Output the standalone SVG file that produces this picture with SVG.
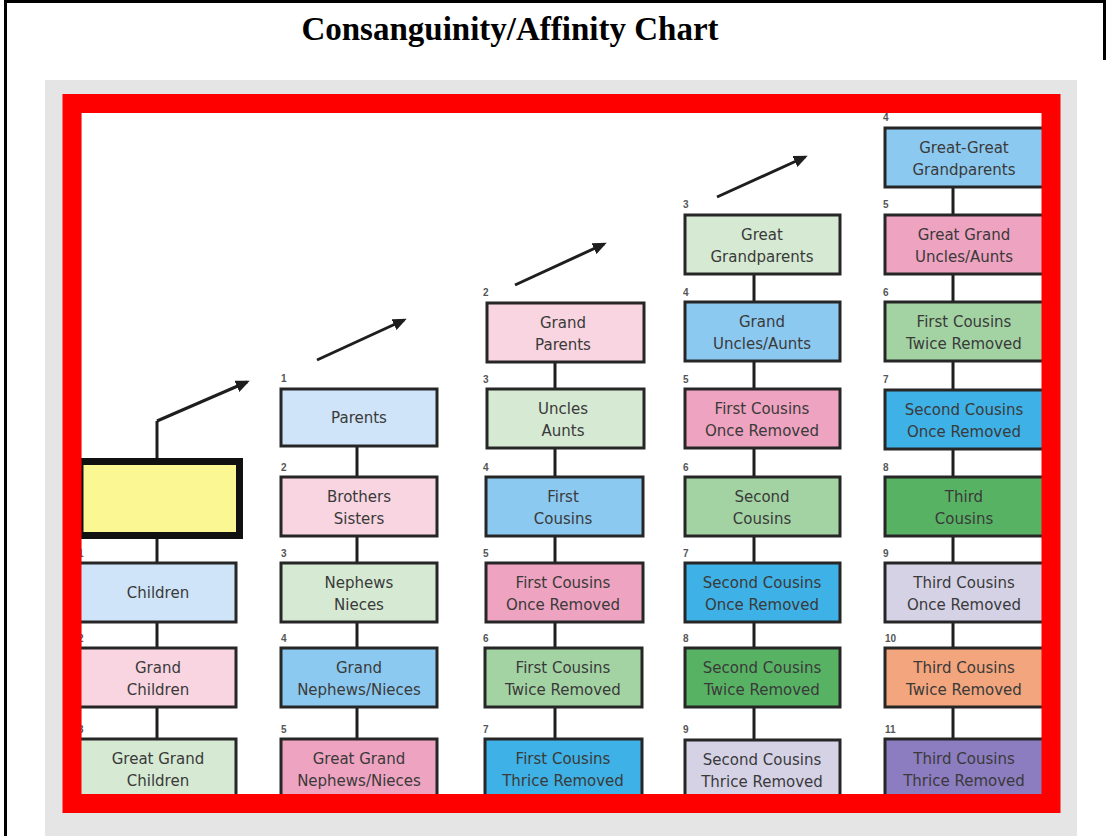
<svg xmlns="http://www.w3.org/2000/svg" width="1108" height="836" viewBox="0 0 1108 836">
<defs>
<style>
.box{stroke:#262626;stroke-width:3}
.t{font-family:"DejaVu Sans","Liberation Sans",sans-serif;font-size:15px;fill:#3a3a3a;text-anchor:middle}
.n{font-family:"Liberation Sans",Arial,sans-serif;font-size:10px;font-weight:bold;fill:#555}
.ln{stroke:#1e1e1e;stroke-width:3;fill:none}
.lb{fill:#cfe4f8}.lp{fill:#f8d5e0}.lg{fill:#d5e9d3}.mb{fill:#8cc9f0}.pk{fill:#eea3c0}
.mg{fill:#a3d3a3}.bb{fill:#3eb1e6}.dg{fill:#58b263}.lv{fill:#d5d2e6}.sm{fill:#f3a57d}.pu{fill:#8c7cc0}
</style>
<marker id="ah" markerUnits="userSpaceOnUse" markerWidth="14" markerHeight="12" refX="11" refY="6" orient="auto">
<path d="M0,0 L14,6 L0,12 z" fill="#1e1e1e"/>
</marker>
</defs>
<rect x="0" y="0" width="1108" height="836" fill="#ffffff"/>
<path d="M5.5,836 V1.5 H1106 M1104.5,1.5 V60" stroke="#000" stroke-width="3" fill="none"/>
<text x="510" y="40" font-family="'Liberation Serif','Times New Roman',serif" font-size="33" font-weight="bold" text-anchor="middle" fill="#000">Consanguinity/Affinity Chart</text>
<rect x="45" y="80" width="1032" height="756" fill="#e5e5e5"/>
<rect x="82" y="113" width="960" height="682" fill="#ffffff"/>

<g id="connectors">
<line class="ln" x1="157" y1="421" x2="157" y2="790"/>
<line class="ln" x1="357" y1="440" x2="357" y2="790"/>
<line class="ln" x1="555" y1="355" x2="555" y2="790"/>
<line class="ln" x1="754" y1="270" x2="754" y2="790"/>
<line class="ln" x1="953" y1="180" x2="953" y2="790"/>
<line class="ln" x1="157" y1="421" x2="247" y2="382" marker-end="url(#ah)"/>
<line class="ln" x1="317" y1="360" x2="404" y2="320" marker-end="url(#ah)"/>
<line class="ln" x1="515" y1="285" x2="604" y2="244" marker-end="url(#ah)"/>
<line class="ln" x1="717" y1="197" x2="805" y2="157" marker-end="url(#ah)"/>
</g>

<g id="self"><rect x="80" y="461.5" width="159.5" height="74" fill="#fbf894" stroke="#111" stroke-width="7"/></g>
<g id="children"><rect class="box lb" x="78" y="563" width="158" height="59"/><text class="n" x="78" y="557">1</text><text class="t" x="158" y="598">Children</text></g>
<g id="grand-children"><rect class="box lp" x="78" y="648" width="158" height="59"/><text class="n" x="78" y="642">2</text><text class="t" x="158" y="673">Grand</text><text class="t" x="158" y="695">Children</text></g>
<g id="great-grand-children"><rect class="box lg" x="78" y="739" width="158" height="59"/><text class="n" x="78" y="733">3</text><text class="t" x="158" y="764">Great Grand</text><text class="t" x="158" y="786">Children</text></g>

<g id="parents"><rect class="box lb" x="281" y="389" width="156" height="57"/><text class="n" x="281" y="382">1</text><text class="t" x="359" y="423">Parents</text></g>
<g id="brothers-sisters"><rect class="box lp" x="281" y="477" width="156" height="59"/><text class="n" x="281" y="471">2</text><text class="t" x="359" y="502">Brothers</text><text class="t" x="359" y="524">Sisters</text></g>
<g id="nephews-nieces"><rect class="box lg" x="281" y="563" width="156" height="59"/><text class="n" x="281" y="557">3</text><text class="t" x="359" y="588">Nephews</text><text class="t" x="359" y="610">Nieces</text></g>
<g id="grand-nephews-nieces"><rect class="box mb" x="281" y="648" width="156" height="59"/><text class="n" x="281" y="642">4</text><text class="t" x="359" y="673">Grand</text><text class="t" x="359" y="695">Nephews/Nieces</text></g>
<g id="great-grand-nephews-nieces"><rect class="box pk" x="281" y="739" width="156" height="59"/><text class="n" x="281" y="733">5</text><text class="t" x="359" y="764">Great Grand</text><text class="t" x="359" y="786">Nephews/Nieces</text></g>

<g id="grand-parents"><rect class="box lp" x="487" y="303" width="157" height="59"/><text class="n" x="483" y="296">2</text><text class="t" x="563" y="328">Grand</text><text class="t" x="563" y="350">Parents</text></g>
<g id="uncles-aunts"><rect class="box lg" x="487" y="389" width="157" height="59"/><text class="n" x="483" y="383">3</text><text class="t" x="563" y="414">Uncles</text><text class="t" x="563" y="436">Aunts</text></g>
<g id="first-cousins"><rect class="box mb" x="486" y="477" width="157" height="59"/><text class="n" x="483" y="471">4</text><text class="t" x="563" y="502">First</text><text class="t" x="563" y="524">Cousins</text></g>
<g id="first-cousins-once-removed-3"><rect class="box pk" x="486" y="563" width="157" height="59"/><text class="n" x="483" y="557">5</text><text class="t" x="563" y="588">First Cousins</text><text class="t" x="563" y="610">Once Removed</text></g>
<g id="first-cousins-twice-removed-3"><rect class="box mg" x="485" y="648" width="157" height="59"/><text class="n" x="483" y="642">6</text><text class="t" x="563" y="673">First Cousins</text><text class="t" x="563" y="695">Twice Removed</text></g>
<g id="first-cousins-thrice-removed"><rect class="box bb" x="485" y="739" width="157" height="59"/><text class="n" x="483" y="733">7</text><text class="t" x="563" y="764">First Cousins</text><text class="t" x="563" y="786">Thrice Removed</text></g>

<g id="great-grandparents"><rect class="box lg" x="685" y="215" width="155" height="59"/><text class="n" x="683" y="208">3</text><text class="t" x="762" y="240">Great</text><text class="t" x="762" y="262">Grandparents</text></g>
<g id="grand-uncles-aunts"><rect class="box mb" x="685" y="302" width="155" height="59"/><text class="n" x="683" y="296">4</text><text class="t" x="762" y="327">Grand</text><text class="t" x="762" y="349">Uncles/Aunts</text></g>
<g id="first-cousins-once-removed-4"><rect class="box pk" x="685" y="389" width="155" height="59"/><text class="n" x="683" y="383">5</text><text class="t" x="762" y="414">First Cousins</text><text class="t" x="762" y="436">Once Removed</text></g>
<g id="second-cousins"><rect class="box mg" x="685" y="477" width="155" height="59"/><text class="n" x="683" y="471">6</text><text class="t" x="762" y="502">Second</text><text class="t" x="762" y="524">Cousins</text></g>
<g id="second-cousins-once-removed-4"><rect class="box bb" x="685" y="563" width="155" height="59"/><text class="n" x="683" y="557">7</text><text class="t" x="762" y="588">Second Cousins</text><text class="t" x="762" y="610">Once Removed</text></g>
<g id="second-cousins-twice-removed"><rect class="box dg" x="685" y="648" width="155" height="59"/><text class="n" x="683" y="642">8</text><text class="t" x="762" y="673">Second Cousins</text><text class="t" x="762" y="695">Twice Removed</text></g>
<g id="second-cousins-thrice-removed"><rect class="box lv" x="685" y="740" width="155" height="59"/><text class="n" x="683" y="733">9</text><text class="t" x="762" y="765">Second Cousins</text><text class="t" x="762" y="787">Thrice Removed</text></g>

<g id="great-great-grandparents"><rect class="box mb" x="885" y="128" width="170" height="59"/><text class="n" x="883" y="121">4</text><text class="t" x="964" y="153">Great-Great</text><text class="t" x="964" y="175">Grandparents</text></g>
<g id="great-grand-uncles-aunts"><rect class="box pk" x="885" y="215" width="170" height="59"/><text class="n" x="883" y="208">5</text><text class="t" x="964" y="240">Great Grand</text><text class="t" x="964" y="262">Uncles/Aunts</text></g>
<g id="first-cousins-twice-removed-5"><rect class="box mg" x="885" y="302" width="170" height="59"/><text class="n" x="883" y="296">6</text><text class="t" x="964" y="327">First Cousins</text><text class="t" x="964" y="349">Twice Removed</text></g>
<g id="second-cousins-once-removed-5"><rect class="box bb" x="885" y="390" width="170" height="59"/><text class="n" x="883" y="383">7</text><text class="t" x="964" y="415">Second Cousins</text><text class="t" x="964" y="437">Once Removed</text></g>
<g id="third-cousins"><rect class="box dg" x="885" y="477" width="170" height="59"/><text class="n" x="883" y="471">8</text><text class="t" x="964" y="502">Third</text><text class="t" x="964" y="524">Cousins</text></g>
<g id="third-cousins-once-removed"><rect class="box lv" x="885" y="563" width="170" height="59"/><text class="n" x="883" y="557">9</text><text class="t" x="964" y="588">Third Cousins</text><text class="t" x="964" y="610">Once Removed</text></g>
<g id="third-cousins-twice-removed"><rect class="box sm" x="885" y="648" width="170" height="59"/><text class="n" x="885" y="642">10</text><text class="t" x="964" y="673">Third Cousins</text><text class="t" x="964" y="695">Twice Removed</text></g>
<g id="third-cousins-thrice-removed"><rect class="box pu" x="885" y="739" width="170" height="59"/><text class="n" x="885" y="733">11</text><text class="t" x="964" y="764">Third Cousins</text><text class="t" x="964" y="786">Thrice Removed</text></g>

<rect x="72" y="103.5" width="979" height="700" fill="none" stroke="#ff0000" stroke-width="19"/>
</svg>
